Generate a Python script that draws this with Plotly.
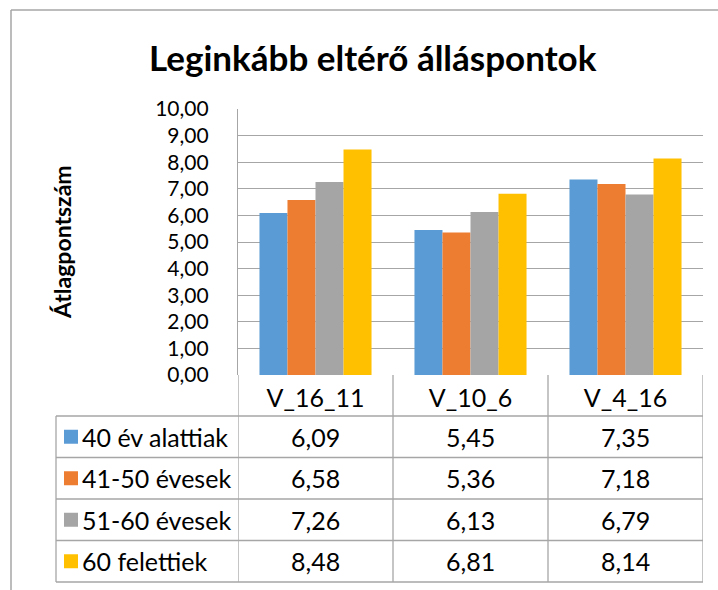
import plotly.graph_objects as go

categories = ["V_16_11", "V_10_6", "V_4_16"]
series_names = ["40 év alattiak", "41-50 évesek", "51-60 évesek", "60 felettiek"]
values_40_alatt = [6.09, 5.45, 7.35]
values_41_50 = [6.58, 5.36, 7.18]
values_51_60 = [7.26, 6.13, 6.79]
values_60_felett = [8.48, 6.81, 8.14]
colors = ["#5B9BD5", "#ED7D31", "#A5A5A5", "#FFC000"]
y_ticks = [0, 1, 2, 3, 4, 5, 6, 7, 8, 9, 10]

series_values = [values_40_alatt, values_41_50, values_51_60, values_60_felett]

W, H = 718, 590
FONT = "Lato"
GRID = "#A6A6A6"
TXT = "#000000"

def px(x):
    return x / W

def py(y):
    return 1 - y / H

plot_l, plot_r, plot_t, plot_b = 238, 703, 109, 375
table_l = 56
header_b = 416
row_h = 41.5

fig = go.Figure()
for name, vals, col in zip(series_names, series_values, colors):
    fig.add_trace(go.Bar(x=categories, y=vals, name=name, marker_color=col,
                         marker_line_width=0, hoverinfo="x+y+name"))

shapes = []
annotations = []

# frame border
shapes.append(dict(type="line", xref="paper", yref="paper", x0=px(11), x1=px(11),
                   y0=py(590), y1=py(10), line=dict(color=GRID, width=1.5)))
shapes.append(dict(type="line", xref="paper", yref="paper", x0=px(11), x1=px(718),
                   y0=py(10), y1=py(10), line=dict(color=GRID, width=1.5)))

n_rows = len(series_names)
table_b = header_b + n_rows * row_h

# table horizontal lines
for r in range(n_rows + 1):
    yy = header_b + r * row_h
    shapes.append(dict(type="line", xref="paper", yref="paper", x0=px(table_l), x1=px(plot_r),
                       y0=py(yy), y1=py(yy), line=dict(color=GRID, width=1.3)))
# table left edge
shapes.append(dict(type="line", xref="paper", yref="paper", x0=px(table_l), x1=px(table_l),
                   y0=py(header_b), y1=py(table_b), line=dict(color=GRID, width=1.3)))
# column boundaries via the category axis
for i in range(len(categories) + 1):
    shapes.append(dict(type="line", xref="x", yref="paper", x0=i - 0.5, x1=i - 0.5,
                       y0=py(plot_b), y1=py(table_b), line=dict(color=GRID, width=1.3)))

def fmt(v):
    return f"{v:.2f}".replace(".", ",")

for r, (name, vals, col) in enumerate(zip(series_names, series_values, colors)):
    yc = header_b + (r + 0.5) * row_h
    # legend key
    shapes.append(dict(type="rect", xref="paper", yref="paper", x0=px(64), x1=px(78),
                       y0=py(yc + 7), y1=py(yc - 7), fillcolor=col, line=dict(width=0)))
    annotations.append(dict(text=name, xref="paper", yref="paper", x=px(80), y=py(yc),
                            xanchor="left", yanchor="middle", showarrow=False,
                            font=dict(family=FONT, size=25, color=TXT)))
    for i, v in enumerate(vals):
        annotations.append(dict(text=fmt(v), xref="x", yref="paper", x=i, y=py(yc),
                                xanchor="center", yanchor="middle", showarrow=False,
                                font=dict(family=FONT, size=25, color=TXT)))

annotations.append(dict(text="<b>Leginkább eltérő álláspontok</b>", xref="paper", yref="paper",
                        x=px(373), y=py(57), xanchor="center", yanchor="middle", showarrow=False,
                        font=dict(family=FONT, size=35, color=TXT)))
annotations.append(dict(text="<b>Átlagpontszám</b>", xref="paper", yref="paper",
                        x=px(62), y=py(242), xanchor="center", yanchor="middle", showarrow=False,
                        textangle=-90, font=dict(family=FONT, size=23, color=TXT)))

fig.update_layout(
    width=W, height=H,
    margin=dict(l=0, r=0, t=0, b=0, pad=0, autoexpand=False),
    paper_bgcolor="white", plot_bgcolor="white",
    barmode="group", bargap=0.277, bargroupgap=0,
    showlegend=False,
    separators=", ",
    shapes=shapes, annotations=annotations,
    xaxis=dict(domain=[px(plot_l), px(plot_r)], range=[-0.5, 2.5], showgrid=False,
               showline=False, ticks="", tickfont=dict(family=FONT, size=25, color=TXT),
               ticklabelstandoff=6, fixedrange=True, automargin=False),
    yaxis=dict(domain=[py(plot_b), py(plot_t)], range=[0, 10], tickvals=y_ticks,
               tickformat=".2f", showgrid=True, gridcolor=GRID, gridwidth=1.3,
               showline=True, linecolor=GRID, linewidth=1.3, zeroline=False,
               ticks="", tickfont=dict(family=FONT, size=21, color=TXT),
               ticklabelstandoff=24, fixedrange=True, automargin=False),
)

fig.write_html("out.html", config={"displayModeBar": False},
               post_script="document.body.style.margin='0';")
